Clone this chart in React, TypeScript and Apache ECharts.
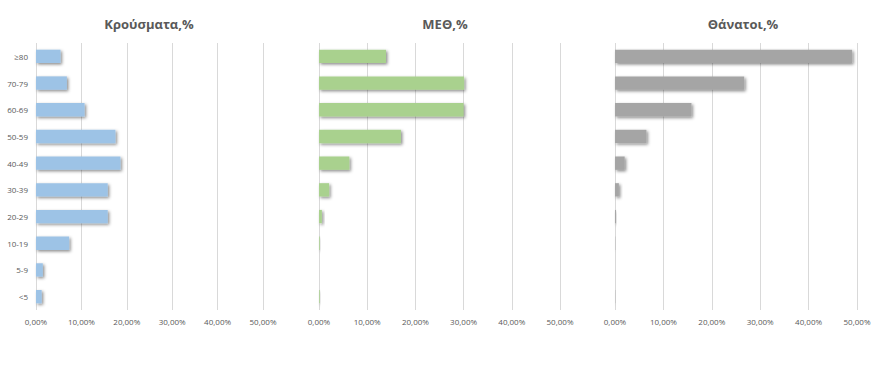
import React, { useEffect, useRef } from "react";
import * as echarts from "echarts";

const categories = ["≥80", "70-79", "60-69", "50-59", "40-49", "30-39", "20-29", "10-19", "5-9", "<5"];
const casesPct = [5.4, 6.8, 10.7, 17.5, 18.6, 15.8, 15.8, 7.3, 1.5, 1.25];
const icuPct = [13.9, 30.1, 30.0, 17.0, 6.3, 2.1, 0.6, 0.15, 0, 0.15];
const deathsPct = [49.0, 26.7, 15.8, 6.5, 2.0, 0.8, 0.2, 0.05, 0, 0.05];
const titles = ["Κρούσματα,%", "ΜΕΘ,%", "Θάνατοι,%"];
const xTicks = [0, 10, 20, 30, 40, 50];

const colors = ["#9DC3E6", "#A9D18E", "#A5A5A5"];
const grids = [
  { left: 36, width: 227 },
  { left: 319, width: 241 },
  { left: 615, width: 242 },
];
const titleCenters = [144, 440, 738];

export default function App() {
  const ref = useRef<HTMLDivElement>(null);
  useEffect(() => {
    if (!ref.current) return;
    const chart = echarts.init(ref.current, undefined, { renderer: "svg" });
    const font = "'Open Sans', 'Liberation Sans', sans-serif";
    const seriesData = [casesPct, icuPct, deathsPct];
    chart.setOption({
      animation: false,
      backgroundColor: "#ffffff",
      title: titles.map((t, i) => ({
        text: t,
        left: titleCenters[i],
        top: 12,
        textAlign: "center",
        textStyle: { fontFamily: font, fontSize: 13, fontWeight: "bold", color: "#595959" },
      })),
      grid: grids.map((g) => ({
        left: g.left,
        width: g.width,
        top: 43,
        bottom: 60,
        containLabel: false,
        outerBoundsMode: "none",
      })),
      xAxis: grids.map((_, i) => ({
        type: "value",
        gridIndex: i,
        min: 0,
        max: 50,
        interval: 10,
        axisLine: { show: false },
        axisTick: { show: false },
        splitLine: { show: true, lineStyle: { color: "#D9D9D9", width: 1 } },
        axisLabel: {
          fontFamily: font,
          fontSize: 8,
          color: "#595959",
          margin: 7,
          formatter: (v: number) => (xTicks.includes(v) ? v.toFixed(2).replace(".", ",") + "%" : ""),
        },
      })),
      yAxis: grids.map((_, i) => ({
        type: "category",
        gridIndex: i,
        data: categories,
        inverse: true,
        axisLine: { show: false },
        axisTick: { show: false },
        axisLabel: {
          show: i === 0,
          fontFamily: font,
          fontSize: 8,
          color: "#595959",
          margin: 8,
        },
      })),
      series: seriesData.map((d, i) => ({
        type: "bar",
        xAxisIndex: i,
        yAxisIndex: i,
        data: d,
        barWidth: "50%",
        itemStyle: {
          color: colors[i],
          shadowColor: "rgba(0,0,0,0.45)",
          shadowBlur: 3,
          shadowOffsetX: 1.5,
          shadowOffsetY: 1.5,
        },
      })),
    });
    return () => chart.dispose();
  }, []);
  return (
    <div
      ref={ref}
      style={{ position: "absolute", left: 0, top: 0, width: 884, height: 370 }}
    />
  );
}
